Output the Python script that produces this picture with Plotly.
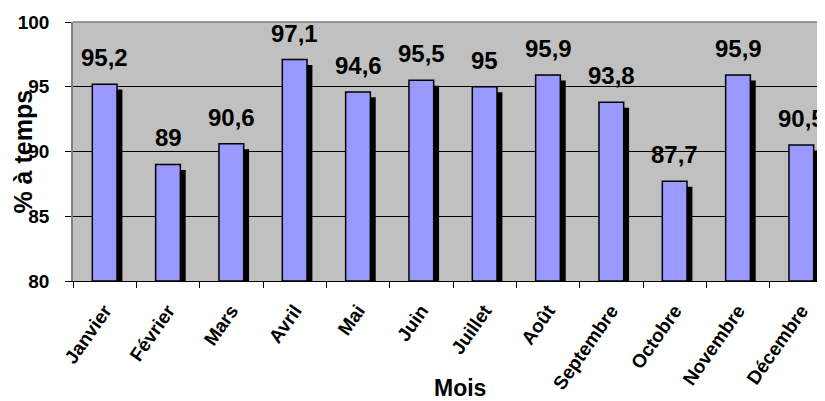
import plotly.graph_objects as go

months = ["Janvier", "Février", "Mars", "Avril", "Mai", "Juin", "Juillet",
          "Août", "Septembre", "Octobre", "Novembre", "Décembre"]
values = [95.2, 89, 90.6, 97.1, 94.6, 95.5, 95, 95.9, 93.8, 87.7, 95.9, 90.5]
labels = ["95,2", "89", "90,6", "97,1", "94,6", "95,5", "95", "95,9", "93,8", "87,7", "95,9", "90,5"]

FONT = "Liberation Sans, Arial, sans-serif"
BASE = 80
BW = 0.39
SH_X = 0.085
SH_Y = 0.42

fig = go.Figure()
# shadow
fig.add_trace(go.Bar(
    x=months, y=[v - BASE - SH_Y for v in values], base=BASE,
    width=BW, offset=-BW / 2 + SH_X,
    marker=dict(color="black", line=dict(width=0)),
    hoverinfo="skip", showlegend=False,
))
# main bars
fig.add_trace(go.Bar(
    x=months, y=[v - BASE for v in values], base=BASE,
    width=BW, offset=-BW / 2,
    marker=dict(color="#9999FF", line=dict(color="black", width=1.5)),
    showlegend=False,
))

for m, v, t in zip(months, values, labels):
    fig.add_annotation(x=m, y=v, text=t, showarrow=False, yanchor="bottom",
                       yshift=11, font=dict(family=FONT, size=24, color="black", weight="bold"))

# x-axis title
fig.add_annotation(xref="paper", yref="paper", x=0.509, y=-0.415, text="Mois",
                   showarrow=False, xanchor="center", yanchor="middle",
                   font=dict(family=FONT, size=23, color="black", weight="bold"))
# y-axis title
fig.add_annotation(xref="paper", yref="paper", x=-0.067, y=0.5, text="% à temps",
                   showarrow=False, xanchor="center", yanchor="middle", textangle=-90,
                   font=dict(family=FONT, size=25, color="black", weight="bold"))

fig.add_shape(type="line", xref="paper", yref="paper", x0=0, x1=1, y0=1, y1=1,
              line=dict(color="#808080", width=1.5))

fig.update_layout(
    width=825, height=401,
    margin=dict(l=65, r=0, t=14, b=128, autoexpand=False),
    paper_bgcolor="white", plot_bgcolor="#C0C0C0",
    barmode="overlay",
    font=dict(family=FONT, color="black"),
    xaxis=dict(
        range=[-0.5, 11.5], tickson="boundaries", ticks="outside", ticklen=6,
        tickcolor="black", tickangle=-55, showline=True, linecolor="black", linewidth=1,
        tickfont=dict(family=FONT, size=19, color="black", weight="bold"),
        showgrid=False, ticklabelstandoff=10, automargin=False,
    ),
    yaxis=dict(
        range=[80, 100], dtick=5, ticks="outside", ticklen=6, tickcolor="black",
        showline=True, linecolor="#808080", linewidth=1.5,
        gridcolor="black", gridwidth=1,
        tickfont=dict(family=FONT, size=19, color="black", weight="bold"),
        ticklabelstandoff=12,
        zeroline=False, automargin=False,
    ),
)

fig.write_html("out.html")
